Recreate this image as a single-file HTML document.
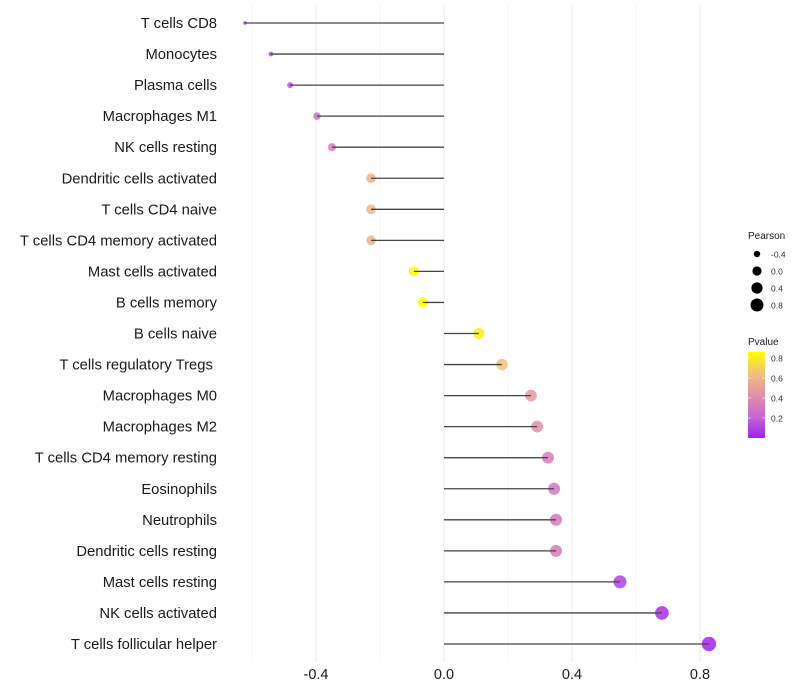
<!DOCTYPE html>
<html><head><meta charset="utf-8"><style>
body{margin:0;background:#fff;font-family:"Liberation Sans",sans-serif}
svg{display:block}
</style></head><body>
<svg id="chart" width="800" height="700"></svg>
<script>
const categories=["T cells CD8","Monocytes","Plasma cells","Macrophages M1","NK cells resting","Dendritic cells activated","T cells CD4 naive","T cells CD4 memory activated","Mast cells activated","B cells memory","B cells naive","T cells regulatory  Tregs\u00a0","Macrophages M0","Macrophages M2","T cells CD4 memory resting","Eosinophils","Neutrophils","Dendritic cells resting","Mast cells resting","NK cells activated","T cells follicular helper"];
const pearson=[-0.622,-0.541,-0.481,-0.397,-0.35,-0.228,-0.228,-0.228,-0.094,-0.066,0.109,0.181,0.272,0.291,0.325,0.344,0.35,0.35,0.55,0.681,0.828];
const pvalue=[0.05,0.12,0.15,0.25,0.32,0.58,0.58,0.58,0.85,0.9,0.8,0.65,0.47,0.42,0.32,0.3,0.3,0.32,0.1,0.04,0.02];
const xTicks=[-0.4,0,0.4,0.8];
const xTickLabels=["-0.4","0.0","0.4","0.8"];
const sizeLegend=[-0.4,0,0.4,0.8];
const sizeLegendLabels=["-0.4","0.0","0.4","0.8"];
const colorTicks=[0.2,0.4,0.6,0.8];

const NS="http://www.w3.org/2000/svg";
const svg=document.getElementById('chart');
function el(t,a,p){const e=document.createElementNS(NS,t);for(const k in a)e.setAttribute(k,a[k]);(p||svg).appendChild(e);return e;}
const X=v=>444+v*320;
const Y=i=>23+i*(644-23)/(categories.length-1);
const sizeKnots=[[-0.62,1.7],[-0.4,3.7],[-0.23,4.8],[0,5.4],[0.3,5.9],[0.55,6.5],[0.83,7.2]];
function R(v){if(v<=sizeKnots[0][0])return sizeKnots[0][1];for(let i=0;i<sizeKnots.length-1;i++){const[a,ra]=sizeKnots[i],[b,rb]=sizeKnots[i+1];if(v<=b)return ra+(rb-ra)*(v-a)/(b-a);}return 7.2;}
const stops=[[0,[160,32,240]],[0.2,[196,100,215]],[0.43,[226,145,165]],[0.62,[240,185,135]],[0.86,[255,255,0]]];
function C(p){p=Math.max(0,Math.min(0.86,p));for(let i=0;i<stops.length-1;i++){const[a,ca]=stops[i],[b,cb]=stops[i+1];if(p<=b){const t=(p-a)/(b-a);return 'rgb('+ca.map((c,j)=>Math.round(c+(cb[j]-c)*t)).join(',')+')';}}return 'rgb(255,255,0)';}

for(let v=-0.6;v<=0.81;v+=0.2){const major=Math.abs(Math.round(v*10)%4)===0;
const g=el('line',{x1:X(v),x2:X(v),y1:5,y2:662,stroke:major?'#ebebeb':'#f5f5f5','stroke-width':major?1.1:0.9});

}
xTicks.forEach((v,i)=>{const t=el('text',{x:X(v),y:679,'text-anchor':'middle','font-size':14.5,fill:'#1a1a1a'});t.textContent=xTickLabels[i];

});
categories.forEach((c,i)=>{
const t=el('text',{x:217,y:Y(i)+5,'text-anchor':'end','font-size':14.8,fill:'#1a1a1a'});t.textContent=c;


const d=el('circle',{cx:X(pearson[i]),cy:Y(i),r:R(pearson[i]),fill:C(pvalue[i]),'fill-opacity':0.85});


const l=el('line',{x1:X(pearson[i]),x2:X(0),y1:Y(i),y2:Y(i),stroke:'#444','stroke-width':1.3});


});
const st=el('text',{x:748,y:239,'font-size':10,fill:'#1a1a1a'});st.textContent='Pearson';


sizeLegend.forEach((v,i)=>{const y=254+i*17;
const c=el('circle',{cx:757,cy:y,r:[3.2,4.6,5.6,6.5][i],fill:'#000'});


const t=el('text',{x:771,y:y+3.5,'font-size':8.5,fill:'#333'});t.textContent=sizeLegendLabels[i];

});
const ct=el('text',{x:748,y:345,'font-size':10,fill:'#1a1a1a'});ct.textContent='Pvalue';


const defs=el('defs',{});const lg=el('linearGradient',{id:'pg',x1:0,y1:1,x2:0,y2:0},defs);
stops.forEach(s=>el('stop',{offset:s[0]/0.86,'stop-color':'rgb('+s[1].join(',')+')'},lg));
const cb=el('rect',{x:748,y:352,width:17,height:86,fill:'url(#pg)'});


colorTicks.forEach(v=>{const y=438-v*100;
el('line',{x1:748,x2:751,y1:y,y2:y,stroke:'#fff','stroke-opacity':0.6});el('line',{x1:762,x2:765,y1:y,y2:y,stroke:'#fff','stroke-opacity':0.6});
const t=el('text',{x:771,y:y+3.5,'font-size':8.5,fill:'#333'});t.textContent=v.toFixed(1);

});
</script>
</body></html>
